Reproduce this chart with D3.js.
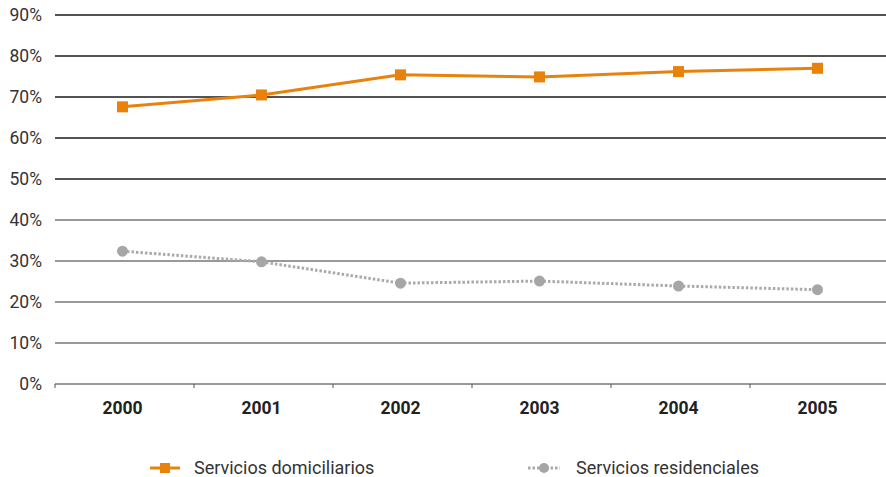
<!DOCTYPE html>
<html>
<head>
<meta charset="utf-8">
<script src="https://cdn.jsdelivr.net/npm/d3@7"></script>
<style>
  body { margin: 0; background: #fff; }
  text { font-family: Roboto, "Noto Sans", sans-serif; }
</style>
</head>
<body>
<div id="chart"></div>
<script>
// data
var years = ["2000", "2001", "2002", "2003", "2004", "2005"];
var domiciliarios = [67.6, 70.5, 75.4, 74.9, 76.2, 77.0];
var residenciales = [32.4, 29.8, 24.6, 25.1, 23.9, 23.0];
var yTicks = [0, 10, 20, 30, 40, 50, 60, 70, 80, 90];

var W = 886, H = 477;
var margin = {top: 15, right: -3, bottom: 93, left: 55},
    width = W - margin.left - margin.right,
    height = H - margin.top - margin.bottom;

var svg = d3.select("#chart")
  .append("svg")
    .attr("width", W)
    .attr("height", H)
  .append("g")
    .attr("transform", "translate(" + margin.left + "," + margin.top + ")");

var x = d3.scaleBand()
  .domain(years)
  .range([0, width]);

var y = d3.scaleLinear()
  .domain([0, 90])
  .range([height, 0]);

// gridlines
svg.selectAll(".grid")
  .data(yTicks)
  .enter()
  .append("line")
    .attr("x1", 0)
    .attr("x2", W - margin.left)
    .attr("y1", function(d) { return y(d); })
    .attr("y2", function(d) { return y(d); })
    .attr("stroke", function(d) { return d >= 50 ? "#1a1a1a" : "#777"; })
    .attr("stroke-width", 1.3);

// y labels
svg.selectAll(".ylab")
  .data(yTicks)
  .enter()
  .append("text")
    .attr("x", -13)
    .attr("y", function(d) { return y(d); })
    .attr("dy", "0.35em")
    .attr("text-anchor", "end")
    .attr("font-size", 17.5)
    .attr("fill", "#333")
    .text(function(d) { return d + "%"; });

// x axis ticks
svg.selectAll(".xtick")
  .data(years)
  .enter()
  .append("line")
    .attr("x1", function(d) { return x(d); })
    .attr("x2", function(d) { return x(d); })
    .attr("y1", height)
    .attr("y2", height + 4)
    .attr("stroke", "#555")
    .attr("stroke-width", 1);

svg.selectAll(".xlab")
  .data(years)
  .enter()
  .append("text")
    .attr("x", function(d) { return x(d) + x.bandwidth() / 2 - 2; })
    .attr("y", height + 30)
    .attr("text-anchor", "middle")
    .attr("font-size", 17.5)
    .attr("font-weight", "bold")
    .attr("fill", "#222")
    .text(function(d) { return d; });

var cx = function(d, i) { return x(years[i]) + x.bandwidth() / 2 - 2; };

var line = d3.line()
  .x(function(d, i) { return cx(d, i); })
  .y(function(d) { return y(d); });

// gray dotted series
svg.append("path")
  .datum(residenciales)
  .attr("d", line)
  .attr("fill", "none")
  .attr("stroke", "#aaa")
  .attr("stroke-width", 3)
  .attr("stroke-dasharray", "2.5,2");

svg.selectAll(".dot")
  .data(residenciales)
  .enter()
  .append("circle")
    .attr("cx", cx)
    .attr("cy", function(d) { return y(d); })
    .attr("r", 5.5)
    .attr("fill", "#a6a6a6");

// orange series
svg.append("path")
  .datum(domiciliarios)
  .attr("d", line)
  .attr("fill", "none")
  .attr("stroke", "#e8820c")
  .attr("stroke-width", 3);

svg.selectAll(".sq")
  .data(domiciliarios)
  .enter()
  .append("rect")
    .attr("x", function(d, i) { return cx(d, i) - 5.5; })
    .attr("y", function(d) { return y(d) - 5.5; })
    .attr("width", 11)
    .attr("height", 11)
    .attr("fill", "#e8820c");

// legend
var legend = d3.select("svg").append("g");
var lg1 = legend.append("g").attr("transform", "translate(150,468)");
lg1.append("line").attr("x1", 0).attr("x2", 30).attr("stroke", "#e8820c").attr("stroke-width", 3);
lg1.append("rect").attr("x", 10).attr("y", -5).attr("width", 10).attr("height", 10).attr("fill", "#e8820c");
lg1.append("text").attr("x", 44).attr("dy", "0.35em").attr("font-size", 18).attr("fill", "#333")
  .text("Servicios  domiciliarios");

var lg2 = legend.append("g").attr("transform", "translate(528,468)");
lg2.append("line").attr("x1", 0).attr("x2", 32).attr("stroke", "#aaa").attr("stroke-width", 3)
  .attr("stroke-dasharray", "2.5,2");
lg2.append("circle").attr("cx", 16).attr("r", 5).attr("fill", "#a6a6a6");
lg2.append("text").attr("x", 48).attr("dy", "0.35em").attr("font-size", 18).attr("fill", "#333")
  .text("Servicios residenciales");
</script>
</body>
</html>
